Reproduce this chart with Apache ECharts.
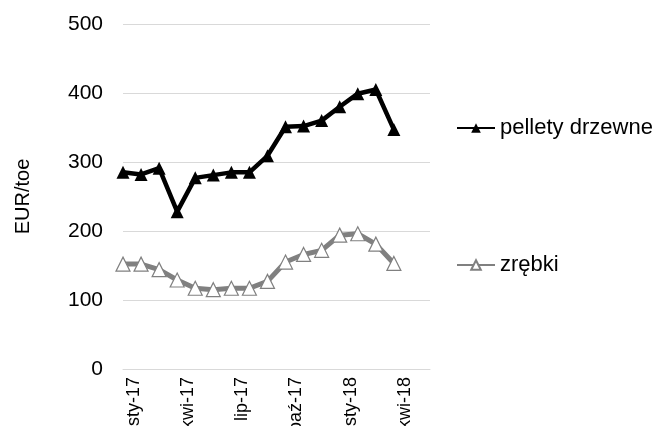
<!DOCTYPE html>
<html>
<head>
<meta charset="utf-8">
<script src="https://cdn.jsdelivr.net/npm/echarts@6/dist/echarts.min.js"></script>
<style>
  html, body { margin: 0; padding: 0; background: #fff; }
  #chart { width: 656px; height: 426px; }
</style>
</head>
<body>
<div id="chart"></div>
<script>
// miesiące (oś kończy się na cze-18, dane do kwi-18)
var months = ['sty-17', 'lut-17', 'mar-17', 'kwi-17', 'maj-17', 'cze-17', 'lip-17', 'sie-17', 'wrz-17',
  'paź-17', 'lis-17', 'gru-17', 'sty-18', 'lut-18', 'mar-18', 'kwi-18', 'maj-18', 'cze-18'];
var pellety = [285, 282, 291, 228, 277, 281, 285, 285, 309, 351, 352, 360, 380, 399, 405, 347];
var zrebki = [152, 152, 144, 129, 117, 115, 117, 117, 127, 155, 166, 172, 194, 196, 181, 153];
var yTicks = [0, 100, 200, 300, 400, 500];

var font = 'Liberation Sans, Arial, sans-serif';
var chartDom = document.getElementById('chart');
var chart = echarts.init(chartDom);

var option = {
  animation: false,
  grid: { left: 123, right: 226, top: 24, bottom: 57, outerBoundsMode: 'none', containLabel: false },
  legend: [
    {
      left: 451, top: 112,
      itemWidth: 38, itemHeight: 12, itemGap: 5,
      textStyle: { fontFamily: font, fontSize: 22, color: '#000' },
      data: ['pellety drzewne']
    },
    {
      left: 451, top: 249,
      itemWidth: 38, itemHeight: 12, itemGap: 5,
      textStyle: { fontFamily: font, fontSize: 22, color: '#000' },
      data: ['zrębki']
    }
  ],
  xAxis: {
    type: 'category',
    boundaryGap: false,
    data: months,
    axisLine: { lineStyle: { color: '#d9d9d9', width: 1 } },
    axisTick: { show: false },
    axisLabel: {
      interval: 2,
      rotate: 90,
      margin: 8,
      verticalAlign: 'top',
      padding: [2, 0, 0, 0],
      fontFamily: font, fontSize: 18, color: '#000'
    }
  },
  yAxis: {
    type: 'value',
    min: yTicks[0], max: yTicks[yTicks.length - 1], interval: 100,
    name: 'EUR/toe',
    nameLocation: 'middle',
    nameGap: 90,
    nameRotate: 90,
    nameTextStyle: { fontFamily: font, fontSize: 20, color: '#000' },
    axisLine: { show: false },
    axisTick: { show: false },
    axisLabel: { margin: 20, fontFamily: font, fontSize: 21, color: '#000' },
    splitLine: { lineStyle: { color: '#d9d9d9', width: 1 } }
  },
  series: [
    {
      name: 'pellety drzewne',
      type: 'line',
      data: pellety,
      showAllSymbol: true,
      symbol: 'triangle',
      symbolSize: 13,
      lineStyle: { color: '#000', width: 4.5 },
      itemStyle: { color: '#000', borderColor: '#000', borderWidth: 0 }
    },
    {
      name: 'zrębki',
      type: 'line',
      data: zrebki,
      showAllSymbol: true,
      symbol: 'triangle',
      symbolSize: 14,
      lineStyle: { color: '#808080', width: 5 },
      itemStyle: { color: '#fff', borderColor: '#808080', borderWidth: 1.2 }
    }
  ]
};

chart.setOption(option);
</script>
</body>
</html>
